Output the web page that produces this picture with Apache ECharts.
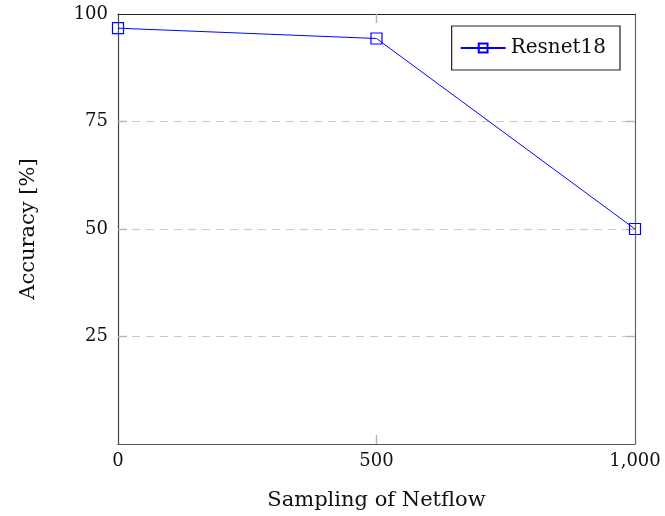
<!DOCTYPE html>
<html>
<head>
<meta charset="utf-8">
<script src="https://cdn.jsdelivr.net/npm/echarts@6/dist/echarts.min.js"></script>
<style>
  html, body { margin: 0; padding: 0; background: #fff; }
  #chart { width: 665px; height: 516px; }
</style>
</head>
<body>
<div id="chart"></div>
<script>
// data
var samplingValues = [0, 500, 1000]
var resnet18Accuracy = [96.7, 94.3, 50]
var seriesName = 'Resnet18'
// inner ticks (the ones at the box edges are hidden by the frame anyway)
var xTickValues = [500]
var yTickValues = [25, 50, 75]

var font = 'DejaVu Serif'
var blue = '#0000ff'

var chart = echarts.init(document.getElementById('chart'))

// inside ticks, pgfplots style
function ticks(vals) {
  return { show: true, inside: true, length: 9, customValues: vals, lineStyle: { color: '#b4b4b4', width: 1.4 } }
}
function boxLine(c) {
  return { show: true, onZero: false, lineStyle: { color: c, width: 1.2 } }
}

chart.setOption({
  animation: false,
  grid: { left: 118, right: 30, top: 14, bottom: 72, containLabel: false },
  legend: {
    data: [seriesName],
    right: 45,
    top: 26,
    padding: [12, 14, 12, 8],
    borderColor: '#222',
    borderWidth: 1.2,
    itemWidth: 45,
    itemHeight: 11,
    itemGap: 4,
    textStyle: { fontFamily: font, fontSize: 20, color: '#111' }
  },
  xAxis: [
    {
      type: 'value',
      min: 0,
      max: 1000,
      interval: 500,
      name: 'Sampling of Netflow',
      nameLocation: 'middle',
      nameGap: 46,
      nameTextStyle: { fontFamily: font, fontSize: 21, color: '#111' },
      axisLine: boxLine('#555'),
      axisTick: ticks(xTickValues),
      axisLabel: {
        margin: 8,
        fontFamily: font,
        fontSize: 18,
        color: '#111',
        formatter: function (v) { return v.toLocaleString('en-US') }
      },
      splitLine: { show: false }
    },
    {
      type: 'value',
      position: 'top',
      min: 0,
      max: 1000,
      interval: 500,
      axisLine: boxLine('#222'),
      axisTick: ticks(xTickValues),
      axisLabel: { show: false },
      splitLine: { show: false }
    }
  ],
  yAxis: [
    {
      type: 'value',
      min: 0,
      max: 100,
      interval: 25,
      name: 'Accuracy [%]',
      nameLocation: 'middle',
      nameGap: 79,
      nameTextStyle: { fontFamily: font, fontSize: 21, color: '#111' },
      axisLine: boxLine('#444'),
      axisTick: ticks(yTickValues),
      axisLabel: {
        margin: 10,
        fontFamily: font,
        fontSize: 18,
        color: '#111',
        showMinLabel: false
      },
      splitLine: { show: true, lineStyle: { color: '#c8c8c8', type: [8, 6], width: 1 } }
    },
    {
      type: 'value',
      position: 'right',
      min: 0,
      max: 100,
      interval: 25,
      axisLine: boxLine('#666'),
      axisTick: ticks(yTickValues),
      axisLabel: { show: false },
      splitLine: { show: false }
    }
  ],
  series: [
    {
      name: seriesName,
      type: 'line',
      xAxisIndex: 0,
      yAxisIndex: 0,
      data: samplingValues.map(function (x, i) { return [x, resnet18Accuracy[i]] }),
      symbol: 'rect',
      symbolSize: 11,
      showAllSymbol: true,
      lineStyle: { color: blue, width: 1 },
      itemStyle: { color: 'rgba(0,0,0,0)', borderColor: blue, borderWidth: 1.2 }
    }
  ]
})
</script>
</body>
</html>
